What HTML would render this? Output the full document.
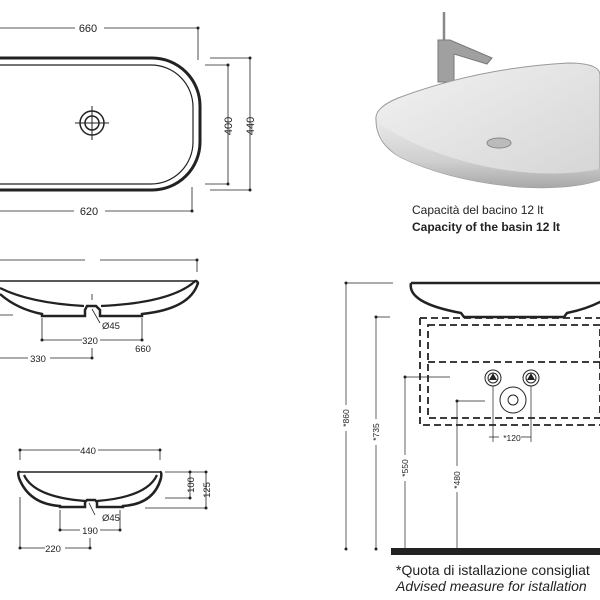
<!DOCTYPE html>
<html><head><meta charset="utf-8"><style>
html,body{margin:0;padding:0;background:#fff}
svg{display:block}
text{font-family:"Liberation Sans",sans-serif;fill:#222}
</style></head><body>
<svg width="600" height="600" viewBox="0 0 600 600" xmlns="http://www.w3.org/2000/svg">
<defs>
<linearGradient id="g1" x1="0" y1="0" x2="0" y2="1"><stop offset="0" stop-color="#e8e8e8"/><stop offset="0.6" stop-color="#cfcfcf"/><stop offset="1" stop-color="#a8a8a8"/></linearGradient>
<linearGradient id="g2" x1="0" y1="0" x2="1" y2="1"><stop offset="0" stop-color="#f2f2f2"/><stop offset="1" stop-color="#d4d4d4"/></linearGradient>
</defs>
<g stroke="#222" fill="none" stroke-width="0.8">
<!-- top view -->
<rect x="-70" y="58" width="270" height="132" rx="48" stroke-width="3"/>
<rect x="-63" y="65" width="256" height="119" rx="42" stroke-width="1.2"/>
<circle cx="92" cy="123" r="12" stroke-width="1.5"/>
<circle cx="92" cy="123" r="7" stroke-width="1.5"/>
<path d="M92 106v34M75 123h34" stroke-width="1"/>
<path d="M0 28h75M104 28h94M198 28v32M0 211h74M105 211h87M192 187v24M205 65h23M228 65v119M205 184h23M210 58h40M250 58v132M210 190h40"/>
<g fill="#222" stroke="none"><circle cx="198" cy="28" r="1.5"/><circle cx="192" cy="211" r="1.5"/><circle cx="228" cy="65" r="1.5"/><circle cx="228" cy="184" r="1.5"/><circle cx="250" cy="58" r="1.5"/><circle cx="250" cy="190" r="1.5"/></g>
<!-- side view 1 -->
<path d="M0 260h85M100 260h97M197 260v12"/>
<path d="M0 281h195" stroke-width="1.5"/>
<path d="M193 283q3-4 5 0q-8 26 -56 31v2h-42v-6l-4-4h-9l-2 4v6h-43v-2q-25-5 -42-20" stroke-width="2.5"/>
<path d="M193 283q-25 20 -92 23M0 288q30 15 84 18" stroke-width="2.2"/>
<path d="M0 315h13M92 294v6M92 309l8 14M42 318v22M142 318v22M42 340h40M100 340h42M0 358h28M50 358h42M92 348v10"/>
<g fill="#222" stroke="none"><circle cx="197" cy="260" r="1.5"/><circle cx="42" cy="340" r="1.5"/><circle cx="142" cy="340" r="1.5"/><circle cx="92" cy="358" r="1.5"/></g>
<!-- side view 2 -->
<path d="M20 450h60M98 450h62M20 450v10M160 450v10"/>
<path d="M20 472h141" stroke-width="1.5"/>
<path d="M20 472q-3 -1 -1 6q10 26 41 28v1h25v-5l2-2h8l2 2v5h26v-1q31-2 38-28q1-6 -1-6" stroke-width="2.5"/>
<path d="M24 475q10 22 61 26M157 475q-10 22 -60 26" stroke-width="2.2"/>
<path d="M165 472h41M190 472v26M165 498h25M206 472v36M145 508h61M60 510v20M120 510v20M60 530h20M100 530h20M20 497v51M20 548h25M65 548h25M90 538v10M89 503l6 12"/>
<g fill="#222" stroke="none"><circle cx="20" cy="450" r="1.5"/><circle cx="160" cy="450" r="1.5"/><circle cx="190" cy="472" r="1.5"/><circle cx="190" cy="498" r="1.5"/><circle cx="206" cy="472" r="1.5"/><circle cx="206" cy="508" r="1.5"/><circle cx="60" cy="530" r="1.5"/><circle cx="120" cy="530" r="1.5"/><circle cx="20" cy="548" r="1.5"/><circle cx="90" cy="548" r="1.5"/></g>
<!-- elevation -->
<path d="M411 283H602M411 283q-4 20 50 30l3 4h100l3-4q20-4 35-12" stroke-width="2.5"/>
<path d="M346 283h47M346 283v266M376 317h14M405 377h45M405 377v172M457 401h28M457 401v148M493 386v56M531 386v56M489 437h10M521 437h10" stroke-width="0.7"/>
<path d="M376 317v232" stroke-width="0.7"/>
<g stroke-dasharray="7 4" stroke-width="1.8"><path d="M420 318h190M420 318v107h190"/><path d="M428 325h172v93h-172zM428 362h172"/></g>
<circle cx="493" cy="378" r="8" stroke-width="1"/><circle cx="493" cy="378" r="5" stroke-width="1"/>
<circle cx="531" cy="378" r="8" stroke-width="1"/><circle cx="531" cy="378" r="5" stroke-width="1"/>
<circle cx="513" cy="400" r="13" stroke-width="1"/><circle cx="513" cy="400" r="5" stroke-width="1"/>
<g fill="#222" stroke="none"><path d="M493 373l4 7h-8zM531 373l4 7h-8z"/><rect x="391" y="548" width="209" height="7"/><circle cx="346" cy="283" r="1.5"/><circle cx="346" cy="549" r="1.5"/><circle cx="376" cy="317" r="1.5"/><circle cx="376" cy="549" r="1.5"/><circle cx="405" cy="377" r="1.5"/><circle cx="457" cy="401" r="1.5"/></g>
</g>
<rect x="340" y="405" width="12" height="26" fill="#fff"/><rect x="370" y="419" width="12" height="26" fill="#fff"/><rect x="399" y="455" width="12" height="26" fill="#fff"/><rect x="451" y="466" width="12" height="26" fill="#fff"/>
<!-- photo -->
<path d="M444 12v30" stroke="#888" stroke-width="2.5"/>
<path d="M438 40h12l42 18l-5 6l-33-10v28h-16z" fill="#a0a0a0" stroke="#7a7a7a"/>
<path d="M376 120q-2-12 22-22q80-30 170-35q32 0 32 12v105q-30 10 -80 7q-70-6 -120-30q-24-14-24-37z" fill="url(#g2)" stroke="#999"/>
<path d="M378 122q40 30 110 45q60 12 112 2v11q-30 10 -80 7q-70-6 -120-30q-20-12-22-35z" fill="url(#g1)"/>
<ellipse cx="499" cy="143" rx="12" ry="5" fill="#bbb" stroke="#888"/>
<g font-size="11">
<text x="88" y="32" text-anchor="middle">660</text><text x="89" y="215" text-anchor="middle">620</text>
<text transform="translate(232,126) rotate(-90)" text-anchor="middle">400</text>
<text transform="translate(254,126) rotate(-90)" text-anchor="middle">440</text>
<text x="102" y="329" font-size="9.5">Ø45</text><text x="90" y="344" text-anchor="middle" font-size="9.5">320</text><text x="143" y="352" text-anchor="middle" font-size="9.5">660</text><text x="38" y="362" text-anchor="middle" font-size="9.5">330</text>
<text x="88" y="454" text-anchor="middle" font-size="9.5">440</text><text x="102" y="521" font-size="9.5">Ø45</text><text x="90" y="534" text-anchor="middle" font-size="9.5">190</text><text x="53" y="552" text-anchor="middle" font-size="9.5">220</text>
<text transform="translate(194,485) rotate(-90)" text-anchor="middle" font-size="9.5">100</text>
<text transform="translate(210,490) rotate(-90)" text-anchor="middle" font-size="9.5">125</text>
<g font-size="8.5"><text transform="translate(349,418) rotate(-90)" text-anchor="middle">*860</text><text transform="translate(379,432) rotate(-90)" text-anchor="middle">*735</text><text transform="translate(408,468) rotate(-90)" text-anchor="middle">*550</text><text transform="translate(460,480) rotate(-90)" text-anchor="middle">*480</text><text x="512" y="441" text-anchor="middle">*120</text></g>
<text x="412" y="214" font-size="12">Capacità del bacino 12 lt</text>
<text x="412" y="231" font-size="12" font-weight="bold">Capacity of the basin 12 lt</text>
<text x="396" y="575" font-size="14">*Quota di istallazione consigliat</text>
<text x="396" y="591" font-size="14" font-style="italic">Advised measure for istallation</text>
</g>
</svg>
</body></html>
